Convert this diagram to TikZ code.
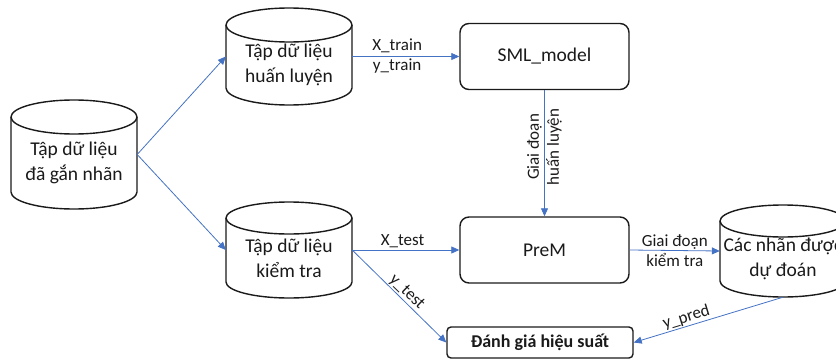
\documentclass[tikz,border=0pt]{standalone}
\usepackage{fontspec}
\setmainfont{Carlito}
\usetikzlibrary{arrows.meta}
\definecolor{arr}{HTML}{4472C4}
\definecolor{txt}{HTML}{1A1A1A}
\definecolor{edge}{HTML}{1A1A1A}
\newcommand\dbcyl[6]{% #1 name, #2 cx, #3 top, #4 bottom, #5 ry, #6 text
  \draw[cylline] (#2-63,#3+#5) -- (#2-63,#4-#5) arc[start angle=180,end angle=360,x radius=63pt,y radius=#5 pt] -- (#2+63,#3+#5);
  \draw[cylline] (#2,#3+#5) ellipse [x radius=63,y radius=#5];
  \node[cyltext, minimum height={#4-#3-#5}] (#1) at (#2,{(#3+#4+#5)/2}) {#6};
}
\begin{document}
\begin{tikzpicture}[x=1pt,y=-1pt,
  cylline/.style={draw=edge, line width=1.4pt, fill=white},
  cyltext/.style={align=center, font=\fontsize{19.5}{25}\selectfont, text=txt, minimum width=126pt, inner sep=0pt},
  box/.style={draw=edge, line width=1.4pt, rounded corners=9pt, minimum width=169pt, minimum height=66pt, font=\fontsize{19.5}{25}\selectfont, text=txt},
  evalbox/.style={draw=edge, line width=1.4pt, rounded corners=4pt, minimum width=186pt, minimum height=31pt, font=\fontsize{18}{22}\selectfont\bfseries, text=txt, inner sep=0pt},
  lbl/.style={font=\fontsize{17}{20}\selectfont, text=txt, align=center, inner sep=2pt},
  flow/.style={draw=arr, line width=0.8pt, -{Triangle[length=8pt,width=7pt]}}]
\useasboundingbox (0,0) rectangle (836,359);

\dbcyl{c1}{74}{100}{209}{17}{Tập dữ liệu\\đã gắn nhãn}
\dbcyl{c2}{289}{8}{105}{17}{Tập dữ liệu\\huấn luyện}
\dbcyl{c3}{289}{202}{298}{16}{Tập dữ liệu\\kiểm tra}
\dbcyl{c4}{783}{205}{297}{16}{Các nhãn được\\dự đoán}

\node[box] (sml) at (544.5,56.5) {SML\_model};
\node[box] (prem) at (544.5,250) {PreM};
\node[evalbox] (ev) at (540,342.5) {Đánh giá hiệu suất};

\draw[flow] ([yshift=8.5pt]c1.east) -- ([yshift=8.5pt]c2.west);
\draw[flow] ([yshift=8.5pt]c1.east) -- ([yshift=8pt]c3.west);
\draw[flow] ([yshift=8.5pt]c2.east) -- node[lbl, pos=0.42] {X\_train\\y\_train} (sml.west);
\draw[flow] (sml.south) -- node[lbl, rotate=90, pos=0.45] {Giai đoạn\\huấn luyện} (prem.north);
\draw[flow] ([yshift=8pt]c3.east) -- node[lbl, above, pos=0.47] {X\_test} (prem.west);
\draw[flow] (prem.east) -- node[lbl] {Giai đoạn\\kiểm tra} ([yshift=8pt]c4.west);
\draw[flow] ([yshift=8pt]c3.east) -- node[lbl, rotate=-44, anchor=south, inner sep=1pt, pos=0.52] {y\_test} (ev.west);
\draw[flow] (c4.south) -- node[lbl, rotate=17, anchor=south, inner sep=1pt, pos=0.63] {y\_pred} (ev.east);
\end{tikzpicture}
\end{document}
